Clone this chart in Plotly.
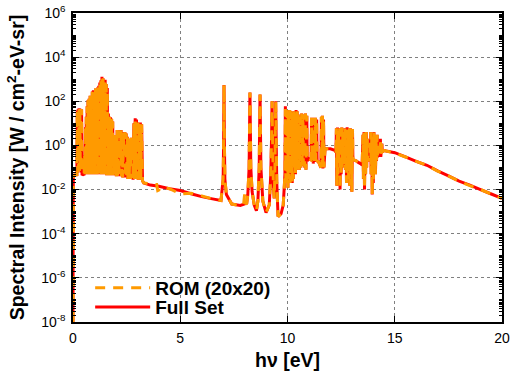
import plotly.graph_objects as go

# ---- Full Set spectrum: photon energy [eV] and spectral intensity [W / cm^2-eV-sr]
energy_a = [0.0, 0.015, 0.10, 0.18, 0.20, 0.22, 0.24, 0.26, 0.28, 0.30, 0.32, 0.34, 0.36, 0.38, 0.40, 0.42, 0.47]
intensity_a = [1e-8, 0.045, 0.046, 0.047, 38, 0.06, 44, 0.08, 48, 0.07, 47, 0.09, 45, 0.06, 42, 0.05, 0.048]

energy_b = [0.52, 0.54, 0.56, 0.58, 0.60, 0.62, 0.64, 0.66, 0.68, 0.70,
            0.72, 0.75, 0.77, 0.80, 0.82, 0.85, 0.87, 0.90, 0.92, 0.95,
            0.97, 1.00, 1.02, 1.05, 1.07, 1.10, 1.12, 1.15, 1.17, 1.20,
            1.22, 1.25, 1.27, 1.30, 1.32, 1.35, 1.37, 1.40, 1.42, 1.45,
            1.47, 1.50, 1.52, 1.55, 1.57, 1.60, 1.62]
intensity_b = [0.05, 0.35, 0.05, 6.6, 0.05, 20, 0.05, 60, 0.05, 110,
               0.05, 130, 0.05, 180, 0.05, 150, 0.05, 280, 0.05, 320,
               0.05, 250, 0.05, 380, 0.05, 300, 0.05, 420, 0.05, 500,
               0.05, 700, 0.05, 900, 0.05, 1300, 0.05, 1100, 0.05, 800,
               0.05, 950, 0.05, 600, 0.045, 400, 0.045]

energy_c = [1.65, 1.67, 1.70, 1.72, 1.75, 1.77, 1.80, 1.82, 1.85, 1.87,
            1.90, 1.92, 1.95, 1.97, 2.00, 2.02, 2.06, 2.08, 2.12, 2.14,
            2.18, 2.20, 2.24, 2.26, 2.30, 2.32, 2.36, 2.38, 2.42, 2.44,
            2.48, 2.50, 2.54, 2.56, 2.60, 2.62, 2.66, 2.68, 2.72, 2.74,
            2.78, 2.80, 2.84, 2.86, 2.90, 2.92, 2.96, 2.98, 3.02, 3.04,
            3.08, 3.10, 3.14, 3.16, 3.20, 3.24]
intensity_c = [28, 0.045, 20, 0.045, 19, 0.045, 16, 0.045, 12, 0.045,
               3, 0.045, 2.5, 0.045, 3, 0.04, 5, 0.04, 4.8, 0.04,
               4.5, 0.2, 5, 0.04, 4, 0.035, 3.5, 0.3, 4, 0.035,
               3.5, 0.035, 2.5, 0.03, 2, 0.03, 2, 0.03, 2.2, 0.3,
               2, 0.028, 10, 0.03, 17, 0.03, 15, 0.03, 11, 0.028,
               10, 0.03, 11, 0.028, 9, 0.025]

energy_d = [3.30, 3.6, 4.0, 4.5, 5.0, 5.5, 6.0, 6.5, 6.9, 7.0, 7.02, 7.04, 7.06, 7.08, 7.15,
            7.4, 7.8, 8.1, 8.15, 8.21, 8.23, 8.25, 8.27, 8.29, 8.35, 8.45, 8.55,
            8.62, 8.68, 8.70, 8.72, 8.74, 8.76, 8.85, 9.0, 9.15, 9.22, 9.26, 9.28,
            9.30, 9.34, 9.38, 9.41, 9.43, 9.45, 9.47, 9.50, 9.56, 9.7, 9.8, 9.86]
intensity_d = [0.02, 0.016, 0.014, 0.011, 0.009, 0.0065, 0.0048, 0.0038, 0.0032, 0.03, 1, 550, 1, 0.03, 0.006,
               0.0022, 0.0019, 0.0024, 0.006, 0.1, 5, 250, 5, 0.1, 0.008, 0.002, 0.0011,
               0.003, 0.1, 5, 200, 5, 0.1, 0.003, 0.0009, 0.002, 0.05, 3, 100,
               3, 0.02, 0.004, 0.05, 3, 100, 3, 0.02, 0.0006, 0.0008, 0.002, 0.02]

energy_e = [9.88, 9.90, 9.92, 9.95, 9.97, 10.00, 10.02, 10.05, 10.07, 10.10,
            10.12, 10.15, 10.17, 10.20, 10.22, 10.25, 10.27, 10.30, 10.32, 10.35,
            10.37, 10.40, 10.42, 10.45, 10.47, 10.50, 10.52, 10.56, 10.60, 10.62,
            10.66, 10.68, 10.72, 10.74, 10.78, 10.80, 10.84, 10.86, 10.90, 10.92,
            11.00, 11.10, 11.12, 11.14, 11.18, 11.20, 11.24, 11.26, 11.30, 11.32,
            11.36, 11.38, 11.45, 11.52, 11.56, 11.58, 11.60, 11.63, 11.65, 11.68,
            11.70]
intensity_e = [0.05, 60, 0.03, 40, 0.02, 35, 0.012, 30, 0.03, 40,
               0.02, 35, 0.05, 30, 0.02, 25, 0.03, 35, 0.1, 30,
               0.05, 40, 0.1, 35, 0.08, 25, 0.15, 0.08, 20, 0.1,
               28, 0.15, 20, 0.12, 25, 0.1, 28, 0.08, 22, 0.2,
               0.25, 0.22, 18, 0.2, 18, 0.15, 15, 0.18, 18, 0.2,
               15, 0.2, 0.18, 0.12, 0.1, 20, 0.1, 22, 0.09, 15,
               0.1]

energy_f = [11.75, 12.0, 12.2, 12.26, 12.28, 12.30, 12.33, 12.35, 12.38, 12.40,
            12.43, 12.45, 12.48, 12.50, 12.53, 12.55, 12.58, 12.60, 12.63, 12.65,
            12.68, 12.70, 12.73, 12.75, 12.78, 12.80, 12.83, 12.85, 12.88, 12.90,
            12.93, 12.95, 12.98, 13.00, 13.03, 13.05, 13.10, 13.20, 13.30, 13.40,
            13.48]
intensity_f = [0.7, 0.7, 0.6, 0.5, 6, 0.015, 6.5, 0.05, 5, 0.2,
               6, 0.01, 5.5, 0.05, 6.5, 0.1, 4, 0.2, 5, 0.1,
               6, 0.08, 5, 0.02, 6.6, 0.1, 5.5, 0.03, 6, 0.015,
               6, 0.05, 5, 0.008, 5.5, 0.2, 0.22, 0.2, 0.17, 0.15,
               0.13]

energy_g = [13.52, 13.54, 13.57, 13.59, 13.62, 13.64, 13.67, 13.69, 13.72, 13.74,
            13.80, 13.85, 13.88, 13.90, 13.93, 13.95, 13.98, 14.00, 14.03, 14.05,
            14.08, 14.10, 14.13, 14.15, 14.18, 14.20, 14.25, 14.30, 14.33, 14.35,
            14.40, 14.42, 14.50]
intensity_g = [3, 0.03, 4, 0.01, 3.5, 0.05, 4, 0.1, 2, 0.2,
               0.25, 0.2, 4, 0.05, 3, 0.006, 3.5, 0.02, 4, 0.1,
               3, 0.05, 2.5, 0.2, 3, 0.3, 0.4, 0.35, 2, 0.3,
               1.2, 0.5, 0.6]

energy_h = [14.6, 15.0, 15.5, 16.0, 16.5, 17.0, 17.5, 18.0, 18.5, 19.0, 19.5, 20.0]
intensity_h = [0.56, 0.47, 0.3, 0.19, 0.126, 0.071, 0.042, 0.024, 0.016, 0.01, 0.0063, 0.004]

# ---- ROM (20x20): values where it departs from the Full Set
rom_energy = [1.30, 1.35, 1.50, 1.60, 1.65, 2.90, 3.6, 3.9, 3.95, 4.0, 4.1, 5.0, 5.5, 6.0,
              7.95, 8.0, 8.05, 9.90, 10.40, 12.78, 13.98, 15.0, 17.0, 18.5]
rom_intensity = [800, 1000, 800, 300, 20, 12, 0.018, 0.017, 0.009, 0.0095, 0.013, 0.0063, 0.0068, 0.0052,
                 0.002, 0.006, 0.0022, 45, 30, 5, 2.5, 0.45, 0.068, 0.015]

ytick_exponents = [-8, -6, -4, -2, 0, 2, 4, 6]
xtick_values = [0, 5, 10, 15, 20]

full_energy = energy_a + energy_b + energy_c + energy_d + energy_e + energy_f + energy_g + energy_h
full_intensity = intensity_a + intensity_b + intensity_c + intensity_d + intensity_e + intensity_f + intensity_g + intensity_h

rom_map = dict(zip(full_energy, full_intensity))
rom_map.update(dict(zip(rom_energy, rom_intensity)))
rom_e_sorted = sorted(rom_map)
rom_i_sorted = [rom_map[e] for e in rom_e_sorted]

font_family = "Liberation Sans, Arial, sans-serif"

fig = go.Figure()
fig.add_trace(go.Scatter(x=full_energy, y=full_intensity, mode="lines", name="<b>Full Set</b>",
                         line=dict(color="#FF0000", width=3, simplify=False), legend="legend2"))
fig.add_trace(go.Scatter(x=rom_e_sorted, y=rom_i_sorted, mode="lines", name="<b>ROM (20x20)</b>",
                         line=dict(color="#FF9A00", width=3, dash="10px,8px", simplify=False), legend="legend"))

legend_common = dict(xanchor="left", yanchor="middle", bgcolor="rgba(0,0,0,0)",
                     font=dict(size=19, family=font_family), itemwidth=55)
fig.update_layout(
    width=513, height=373,
    margin=dict(l=73, r=11, t=13, b=51),
    paper_bgcolor="white", plot_bgcolor="white",
    font=dict(family=font_family, color="black", size=14),
    showlegend=True,
    legend=dict(x=0.04, y=0.11, **legend_common),
    legend2=dict(x=0.04, y=0.048, **legend_common),
)
fig.update_xaxes(
    range=[0, 20], tickvals=xtick_values, ticktext=[str(v) for v in xtick_values],
    ticks="inside", ticklen=6, tickwidth=1, tickcolor="black", mirror="ticks",
    showline=True, linecolor="black", linewidth=1.5, automargin=False,
    showgrid=True, gridcolor="#808080", griddash="dot", gridwidth=1, zeroline=False,
    tickfont=dict(size=14), ticklabelstandoff=2,
    title=dict(text="<b>hν [eV]</b>", font=dict(size=19.5), standoff=9),
)
fig.update_yaxes(
    type="log", range=[-8, 6],
    tickvals=[10.0 ** k for k in ytick_exponents],
    ticktext=["10<sup>%d</sup>" % k for k in ytick_exponents],
    ticks="inside", ticklen=6, tickwidth=1, tickcolor="black", mirror="ticks",
    minor=dict(ticks="inside", ticklen=3, tickcolor="black", showgrid=False, dtick="D1"),
    showline=True, linecolor="black", linewidth=1.5, automargin=False,
    showgrid=True, gridcolor="#808080", griddash="dot", gridwidth=1, zeroline=False,
    tickfont=dict(size=14), ticklabelstandoff=3,
    title=dict(text="<b>Spectral Intensity [W / cm<sup>2</sup>-eV-sr]</b>", font=dict(size=19.5), standoff=11),
)

fig.write_html("out.html", config={"displayModeBar": False},
               post_script="document.body.style.margin='0';document.body.style.overflow='hidden';")
